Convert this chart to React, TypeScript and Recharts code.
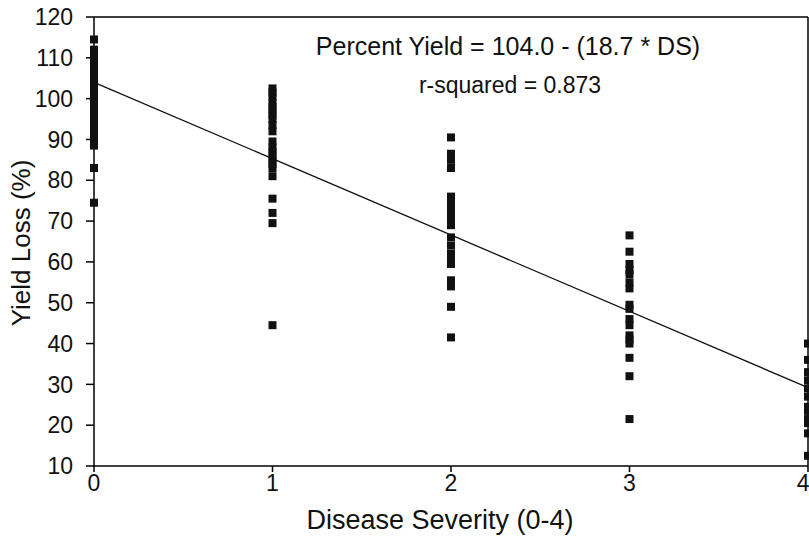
import * as React from "react";
import {
  ScatterChart,
  Scatter,
  XAxis,
  YAxis,
  ZAxis,
  ReferenceLine,
} from "recharts";

// disease severity classes (x) and observed yields at each class
const severities = [0, 1, 2, 3, 4];
const yieldDS0 = [114.5, 112, 110.5, 109, 107.5, 106, 105, 104, 103, 102, 101, 100, 99, 98, 97, 96, 95, 93.5, 92, 91, 90, 89, 88.5, 83, 74.5];
const yieldDS1 = [102.5, 101.5, 100.5, 99, 98, 97, 96, 95, 93.5, 92, 89.5, 88, 87, 86, 85, 84, 83, 81, 75.5, 72, 69.5, 44.5];
const yieldDS2 = [90.5, 86.5, 85, 83, 76, 75, 73.5, 72, 70.5, 69, 66, 64, 62, 61, 59.5, 55.5, 54, 49, 41.5];
const yieldDS3 = [66.5, 62.5, 59.5, 58, 57, 55, 53.5, 49.5, 48.5, 46, 44.5, 42, 41, 40, 36.5, 32, 21.5];
const yieldDS4 = [40, 36, 33, 31, 29, 27, 24.5, 23.5, 21.5, 20.5, 18, 12.5];

const xTicks = [0, 1, 2, 3, 4];
const yTicks = [10, 20, 30, 40, 50, 60, 70, 80, 90, 100, 110, 120];

// fitted regression: Percent Yield = 104.0 - 18.7 * DS
const intercept = 104.0;
const slope = -18.7;
const rSquared = 0.873;

const columns = [yieldDS0, yieldDS1, yieldDS2, yieldDS3, yieldDS4];
const points = columns.flatMap((vals, i) =>
  vals.map((y) => ({ x: severities[i], y }))
);
const fitLine = [0, 4].map((x) => ({ x, y: intercept + slope * x }));

const FONT = "'Liberation Sans', Arial, Helvetica, sans-serif";

export default function App() {
  return (
    <div style={{ position: "absolute", left: 0, top: 0, background: "#fff" }}>
      <ScatterChart
        width={809}
        height={536}
        margin={{ top: 17, right: 1, bottom: 0, left: 0 }}
        style={{ fontFamily: FONT }}
      >
        <XAxis
          type="number"
          dataKey="x"
          domain={[0, 4]}
          ticks={xTicks}
          height={70}
          stroke="#000"
          strokeWidth={1.5}
          tickSize={6}
          tickMargin={3}
          tick={{ fill: "#111", fontSize: 23 }}
        />
        <YAxis
          type="number"
          dataKey="y"
          domain={[10, 120]}
          ticks={yTicks}
          width={94}
          stroke="#000"
          strokeWidth={1.5}
          tickSize={8}
          tickMargin={13}
          tick={{ fill: "#111", fontSize: 23 }}
        />
        <ZAxis range={[81, 81]} />
        <ReferenceLine y={120} stroke="#000" strokeWidth={1.5} />
        <ReferenceLine x={4} stroke="#000" strokeWidth={1.5} />
        <Scatter
          data={points}
          fill="#111"
          shape="square"
          legendType="none"
          isAnimationActive={false}
        />
        <Scatter
          data={fitLine}
          line={{ stroke: "#111", strokeWidth: 1.3 }}
          shape={() => null}
          legendType="none"
          isAnimationActive={false}
        />
        <text x={508} y={55} textAnchor="middle" fontSize={25} fill="#111" fontFamily={FONT}>
          Percent Yield = {intercept.toFixed(1)} - ({Math.abs(slope).toFixed(1)} * DS)
        </text>
        <text x={510} y={93} textAnchor="middle" fontSize={23} fill="#111" fontFamily={FONT}>
          r-squared = {rSquared.toFixed(3)}
        </text>
        <text x={440} y={529} textAnchor="middle" fontSize={27} fill="#111" fontFamily={FONT}>
          Disease Severity (0-4)
        </text>
        <text
          transform="translate(30,243) rotate(-90)"
          textAnchor="middle"
          fontSize={26}
          fill="#111"
          fontFamily={FONT}
        >
          Yield Loss (%)
        </text>
      </ScatterChart>
    </div>
  );
}
